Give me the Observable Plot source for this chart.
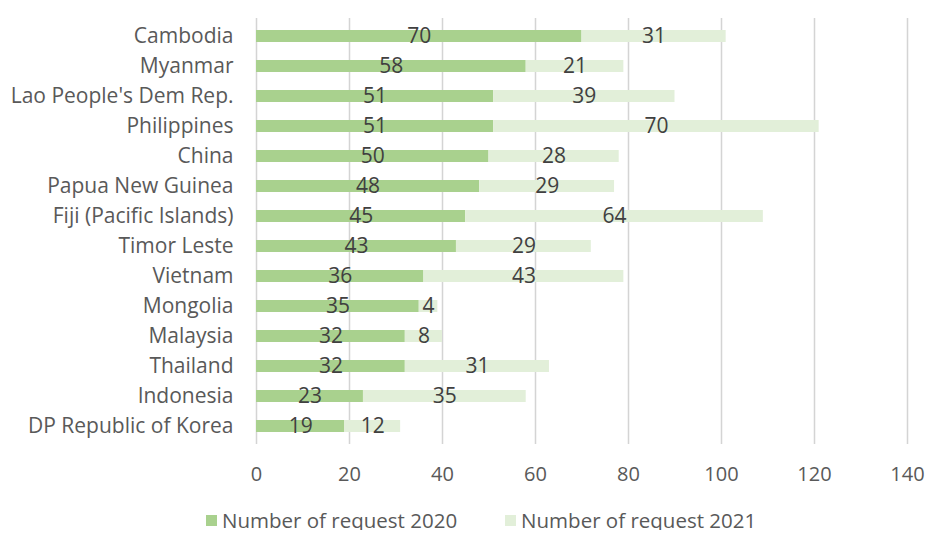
<!DOCTYPE html>
<html>
<head>
<meta charset="utf-8">
<script src="https://cdn.jsdelivr.net/npm/d3@7"></script>
<script src="https://cdn.jsdelivr.net/npm/@observablehq/plot@0.6"></script>
<style>
  body { margin: 0; background: #fff; font-family: "Open Sans", sans-serif; }
  #legend { display: flex; gap: 48px; margin-left: 206px; margin-top: 14px; font-size: 20.5px; color: #595959; line-height: 20px; }
  #legend span.item { display: flex; align-items: center; }
  #legend span.sw { width: 11px; height: 11px; margin-right: 5px; display: inline-block; }
</style>
</head>
<body>
<div id="chart"></div>
<div id="legend"></div>
<script>
const countries = ["Cambodia","Myanmar","Lao People's Dem Rep.","Philippines","China","Papua New Guinea","Fiji (Pacific Islands)","Timor Leste","Vietnam","Mongolia","Malaysia","Thailand","Indonesia","DP Republic of Korea"];
const requests2020 = [70,58,51,51,50,48,45,43,36,35,32,32,23,19];
const requests2021 = [31,21,39,70,28,29,64,29,43,4,8,31,35,12];
const seriesNames = ["Number of request 2020","Number of request 2021"];
const seriesColors = ["#a9d18e","#e2efd9"];
const xTicks = [0,20,40,60,80,100,120,140];

const data = [];
countries.forEach((c, i) => {
  data.push({country: c, series: seriesNames[0], value: requests2020[i]});
  data.push({country: c, series: seriesNames[1], value: requests2021[i]});
});

const chart = Plot.plot({
  width: 928,
  height: 496,
  marginLeft: 256,
  marginRight: 21,
  marginTop: 18,
  marginBottom: 52,
  style: {fontFamily: "Open Sans, sans-serif", fontSize: "21px", color: "#595959", background: "#fff"},
  x: {domain: [0, 140], ticks: xTicks, tickSize: 0, tickPadding: 22, label: null},
  y: {domain: countries, paddingInner: 0.6, paddingOuter: 0.25, tickSize: 0, tickPadding: 23, label: null},
  color: {domain: seriesNames, range: seriesColors},
  marks: [
    Plot.ruleX(xTicks, {stroke: "#d4d4d4", strokeWidth: 1.5}),
    Plot.barX(data, {y: "country", x: "value", fill: "series"}),
    Plot.text(data, Plot.stackX({y: "country", x: "value", text: d => String(d.value), fill: "#404040", fontSize: 21}))
  ]
});
chart.querySelectorAll('g[aria-label="x-axis tick label"] text').forEach(t => t.style.fontSize = "20px");
document.getElementById("chart").appendChild(chart);

const legend = document.getElementById("legend");
seriesNames.forEach((n, i) => {
  const item = document.createElement("span");
  item.className = "item";
  const sw = document.createElement("span");
  sw.className = "sw";
  sw.style.background = seriesColors[i];
  item.appendChild(sw);
  item.appendChild(document.createTextNode(n));
  legend.appendChild(item);
});
</script>
</body>
</html>
